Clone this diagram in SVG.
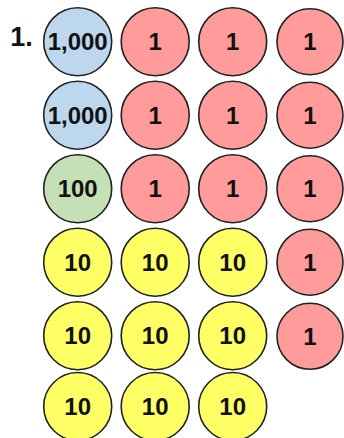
<svg xmlns="http://www.w3.org/2000/svg" width="344" height="438" viewBox="0 0 344 438">
<style>
circle{stroke:#222;stroke-width:1.6}
.th{fill:#bdd7ee}.hu{fill:#c5e0b4}.te{fill:#ffff66}.on{fill:#ff9b9b}
text{font-family:"Liberation Sans",Arial,sans-serif;font-weight:bold;font-size:24px;fill:#111;text-anchor:middle}
</style>
<rect width="344" height="438" fill="#fff"/>
<text x="21.5" y="46" style="font-size:27px">1.</text>
<g id="r0c0"><circle class="th" cx="77.7" cy="41.7" r="34"/><text x="77.7" y="50.3">1,000</text></g>
<g id="r0c1"><circle class="on" cx="155.2" cy="41.7" r="34"/><text x="155.2" y="50.3">1</text></g>
<g id="r0c2"><circle class="on" cx="232.7" cy="41.7" r="34"/><text x="232.7" y="50.3">1</text></g>
<g id="r0c3"><circle class="on" cx="310" cy="41.7" r="33"/><text x="310" y="50.3">1</text></g>
<g id="r1c0"><circle class="th" cx="77.7" cy="115.2" r="34"/><text x="77.7" y="123.8">1,000</text></g>
<g id="r1c1"><circle class="on" cx="155.2" cy="115.2" r="34"/><text x="155.2" y="123.8">1</text></g>
<g id="r1c2"><circle class="on" cx="232.7" cy="115.2" r="34"/><text x="232.7" y="123.8">1</text></g>
<g id="r1c3"><circle class="on" cx="310" cy="115.2" r="33"/><text x="310" y="123.8">1</text></g>
<g id="r2c0"><circle class="hu" cx="77.7" cy="188.7" r="34"/><text x="77.7" y="197.3">100</text></g>
<g id="r2c1"><circle class="on" cx="155.2" cy="188.7" r="34"/><text x="155.2" y="197.3">1</text></g>
<g id="r2c2"><circle class="on" cx="232.7" cy="188.7" r="34"/><text x="232.7" y="197.3">1</text></g>
<g id="r2c3"><circle class="on" cx="310" cy="188.7" r="33"/><text x="310" y="197.3">1</text></g>
<g id="r3c0"><circle class="te" cx="77.7" cy="262.2" r="34"/><text x="77.7" y="270.8">10</text></g>
<g id="r3c1"><circle class="te" cx="155.2" cy="262.2" r="34"/><text x="155.2" y="270.8">10</text></g>
<g id="r3c2"><circle class="te" cx="232.7" cy="262.2" r="34"/><text x="232.7" y="270.8">10</text></g>
<g id="r3c3"><circle class="on" cx="310" cy="262.2" r="33"/><text x="310" y="270.8">1</text></g>
<g id="r4c0"><circle class="te" cx="77.7" cy="335.7" r="34"/><text x="77.7" y="344.3">10</text></g>
<g id="r4c1"><circle class="te" cx="155.2" cy="335.7" r="34"/><text x="155.2" y="344.3">10</text></g>
<g id="r4c2"><circle class="te" cx="232.7" cy="335.7" r="34"/><text x="232.7" y="344.3">10</text></g>
<g id="r4c3"><circle class="on" cx="310" cy="336.3" r="33"/><text x="310" y="344.9">1</text></g>
<g id="r5c0"><circle class="te" cx="77.7" cy="406.5" r="34"/><text x="77.7" y="415.1">10</text></g>
<g id="r5c1"><circle class="te" cx="155.2" cy="406.5" r="34"/><text x="155.2" y="415.1">10</text></g>
<g id="r5c2"><circle class="te" cx="232.7" cy="406.5" r="34"/><text x="232.7" y="415.1">10</text></g>
<g id="connectors"/>
</svg>
